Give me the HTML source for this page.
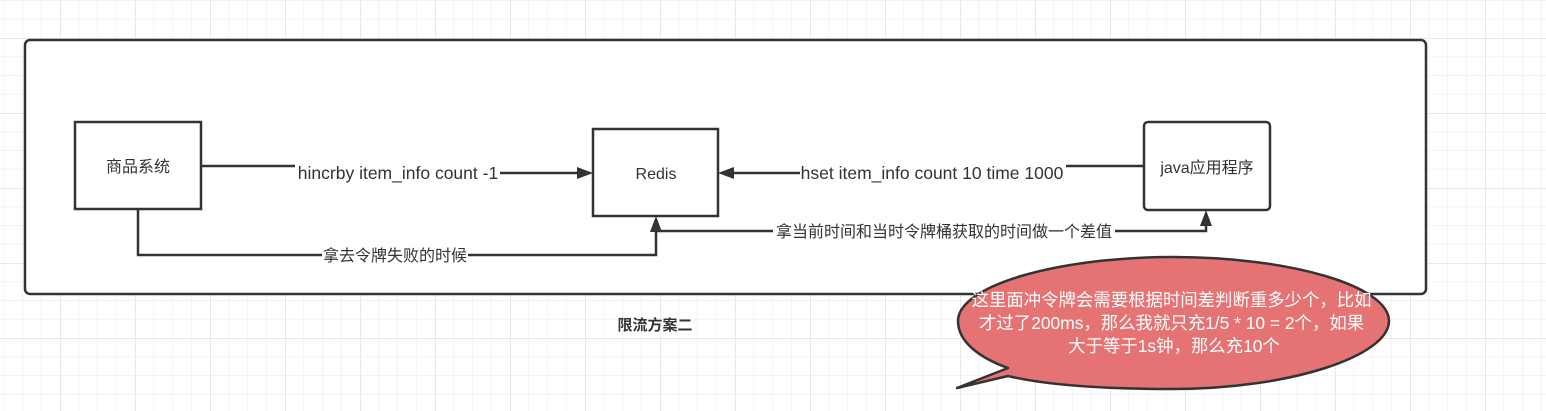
<!DOCTYPE html>
<html><head><meta charset="utf-8"><style>
html,body{margin:0;padding:0;background:#fff;}
svg{display:block;}
text{font-family:"Liberation Sans","Noto Sans CJK SC",sans-serif;}
</style></head><body>
<svg width="1546" height="411" xmlns="http://www.w3.org/2000/svg">
<defs>
<pattern id="g" x="60" y="38" width="75" height="75" patternUnits="userSpaceOnUse">
<path d="M0 0H75M0 18.75H75M0 37.5H75M0 56.25H75M0 0V75M18.75 0V75M37.5 0V75M56.25 0V75" stroke="#f3f3f3" stroke-width="1" fill="none"/>
<path d="M0 0.5H75M0.5 0V75" stroke="#e8e8e8" stroke-width="1" fill="none"/>
</pattern>
</defs>
<rect width="1546" height="411" fill="url(#g)"/>
<rect x="25" y="40" width="1401" height="254" rx="5" fill="#fff" stroke="#333" stroke-width="2.5"/>
<rect x="75" y="122" width="126" height="87" fill="#fff" stroke="#333" stroke-width="2.5"/>
<text x="138" y="172" font-size="16" text-anchor="middle" fill="#333">商品系统</text>
<rect x="593" y="129" width="125" height="87" fill="#fff" stroke="#333" stroke-width="2.5"/>
<text x="656" y="179" font-size="16" text-anchor="middle" fill="#333">Redis</text>
<rect x="1144" y="122" width="126" height="88" rx="4" fill="#fff" stroke="#333" stroke-width="2.5"/>
<text x="1207" y="173" font-size="16" text-anchor="middle" fill="#333">java应用程序</text>
<g stroke="#333" stroke-width="2.5" fill="none">
<path d="M201 166H295"/><path d="M500 173H580"/>
<path d="M1144 166H1066"/><path d="M800 173H731"/>
<path d="M138 209V255H322"/><path d="M468 255H656V229"/>
<path d="M656 231H773"/><path d="M1115 231H1206V222"/>
</g>
<g fill="#333">
<path d="M593 173L577 167V179Z"/>
<path d="M718 173L734 167V179Z"/>
<path d="M656 216L650 232H662Z"/>
<path d="M1206 210L1200 226H1212Z"/>
</g>
<text x="398" y="179" font-size="17.5" text-anchor="middle" fill="#333">hincrby item_info count -1</text>
<text x="932" y="179" font-size="17.5" text-anchor="middle" fill="#333">hset item_info count 10 time 1000</text>
<text x="395" y="261" font-size="16" text-anchor="middle" fill="#333">拿去令牌失败的时候</text>
<text x="944" y="237" font-size="16" text-anchor="middle" fill="#333">拿当前时间和当时令牌桶获取的时间做一个差值</text>
<text x="655" y="330" font-size="15" font-weight="bold" text-anchor="middle" fill="#333">限流方案二</text>
<path d="M1008 376 C1050 386 1110 389 1173 389 C1290 389 1389 356 1389 321 C1389 286 1290 257 1173 257 C1056 257 958 286 958 321 C958 342 980 358 1008 368 L957 388 Z" fill="#e57373" stroke="#333" stroke-width="2.5" stroke-linejoin="round"/>
<text font-size="17.4" fill="#fff" text-anchor="middle">
<tspan x="1174" y="306">这里面冲令牌会需要根据时间差判断重多少个，比如</tspan>
<tspan x="1174" y="329">才过了200ms，那么我就只充1/5 * 10 = 2个，如果</tspan>
<tspan x="1174" y="352">大于等于1s钟，那么充10个</tspan>
</text>
</svg>
</body></html>
